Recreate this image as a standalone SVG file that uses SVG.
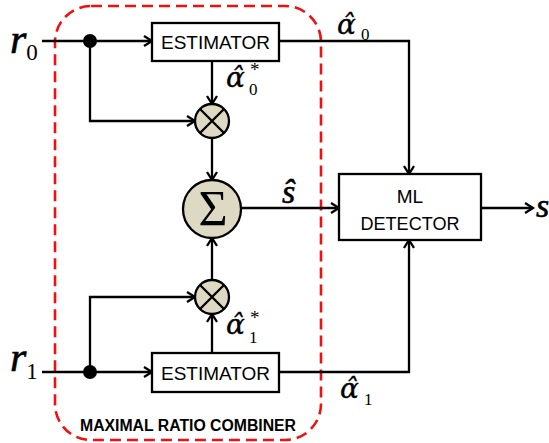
<svg xmlns="http://www.w3.org/2000/svg" width="549" height="443" viewBox="0 0 549 443">
<style>
.ln{fill:none;stroke:#000;stroke-width:2.3}
.box{fill:#fff;stroke:#000;stroke-width:2.3}
.op{fill:#ddd9c3;stroke:#000;stroke-width:2.3}
.lbl{font-family:"Liberation Sans",Arial,sans-serif;font-size:19px;fill:#000}
.m{font-family:"Liberation Serif","Times New Roman",serif;font-style:italic;fill:#000;stroke:#000;stroke-width:0.6}
.a{font-family:"DejaVu Serif",serif;font-style:italic;fill:#000;stroke:#000;stroke-width:0.3}
.n{font-family:"Liberation Serif","Times New Roman",serif;font-style:normal;fill:#000}
</style>
<defs>
<marker id="arr" markerUnits="userSpaceOnUse" markerWidth="14" markerHeight="14" refX="11" refY="6" orient="auto">
<path d="M3,1 L11,6 L3,11" fill="none" stroke="#000" stroke-width="2.3"/>
</marker>
</defs>
<rect x="55" y="6" width="266" height="434" rx="36" ry="36" fill="none" stroke="#f01010" stroke-width="2.6" stroke-dasharray="11 6"/>
<text x="188" y="431" text-anchor="middle" font-family="'Liberation Sans',Arial,sans-serif" font-weight="bold" font-size="16" textLength="216" lengthAdjust="spacingAndGlyphs">MAXIMAL RATIO COMBINER</text>
<g id="connectors">
<path class="ln" d="M42,41 H152" marker-end="url(#arr)"/>
<path class="ln" d="M90,41 V121 H195" marker-end="url(#arr)"/>
<path class="ln" d="M212,61 V104" marker-end="url(#arr)"/>
<path class="ln" d="M212,138 V180" marker-end="url(#arr)"/>
<path class="ln" d="M42,372 H152" marker-end="url(#arr)"/>
<path class="ln" d="M90,372 V297 H195" marker-end="url(#arr)"/>
<path class="ln" d="M212,353 V314" marker-end="url(#arr)"/>
<path class="ln" d="M212,280 V238" marker-end="url(#arr)"/>
<path class="ln" d="M241,208 H339" marker-end="url(#arr)"/>
<path class="ln" d="M279,41 H409 V174" marker-end="url(#arr)"/>
<path class="ln" d="M279,372 H409 V240" marker-end="url(#arr)"/>
<path class="ln" d="M481,208 H533" marker-end="url(#arr)"/>
<circle cx="90" cy="41" r="7" fill="#000"/>
<circle cx="90" cy="372" r="7" fill="#000"/>
</g>
<g id="r0"><text class="m" x="10" y="53" font-size="42">r<tspan class="n" y="60" font-size="23" stroke-width="0">0</tspan></text></g>
<g id="r1"><text class="m" x="10" y="371" font-size="42">r<tspan class="n" y="379" font-size="23" stroke-width="0">1</tspan></text></g>
<g id="est0"><rect class="box" x="152" y="23" width="127" height="38"/><text class="lbl" x="215.5" y="49" text-anchor="middle" textLength="109" lengthAdjust="spacingAndGlyphs">ESTIMATOR</text></g>
<g id="est1"><rect class="box" x="152" y="353" width="127" height="39"/><text class="lbl" x="215.5" y="380" text-anchor="middle" textLength="109" lengthAdjust="spacingAndGlyphs">ESTIMATOR</text></g>
<g id="mul0"><circle class="op" cx="212" cy="121" r="17"/><path class="ln" d="M200,109 L224,133 M224,109 L200,133"/></g>
<g id="mul1"><circle class="op" cx="212" cy="297" r="17"/><path class="ln" d="M200,285 L224,309 M224,285 L200,309"/></g>
<g id="sum"><circle class="op" cx="212" cy="209" r="29"/><text class="n" x="213" y="225" font-size="50" text-anchor="middle">Σ</text></g>
<g id="ml"><rect class="box" x="339" y="174" width="142" height="66"/><text class="lbl" x="410" y="203" text-anchor="middle" font-size="21">ML</text><text class="lbl" x="410" y="230" text-anchor="middle" font-size="21" textLength="99" lengthAdjust="spacingAndGlyphs">DETECTOR</text></g>
<g id="labels">
<text class="a" x="226" y="87" font-size="28">α̂<tspan class="n" x="249" y="95" font-size="17" stroke-width="0">0</tspan><tspan class="n" x="250" y="76" font-size="19" stroke-width="0">*</tspan></text>
<text class="a" x="226" y="334" font-size="28">α̂<tspan class="n" x="249" y="343" font-size="17" stroke-width="0">1</tspan><tspan class="n" x="250" y="324" font-size="19" stroke-width="0">*</tspan></text>
<text class="a" x="337" y="34" font-size="28">α̂<tspan class="n" x="361" y="40" font-size="17" stroke-width="0">0</tspan></text>
<text class="a" x="340" y="398" font-size="28">α̂<tspan class="n" x="364" y="405" font-size="17" stroke-width="0">1</tspan></text>
<text class="m" x="282" y="203" font-size="34">ŝ</text>
<text class="m" x="536" y="217" font-size="34">s</text>
</g>
</svg>
